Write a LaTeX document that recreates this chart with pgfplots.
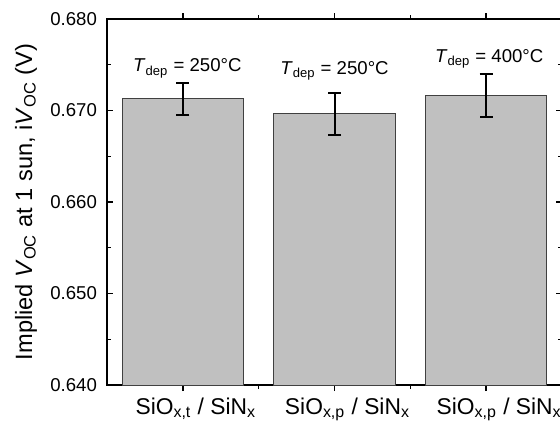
\documentclass[border=0pt]{standalone}
\usepackage{pgfplots}
\pgfplotsset{compat=1.18}
\usepackage{fontspec}
\setmainfont{Liberation Sans}
\definecolor{barfill}{HTML}{C0C0C0}
\begin{document}
\begin{tikzpicture}
\begin{axis}[
    name=ax,
    scale only axis,
    width=227.5pt, height=183pt,
    xmin=0.5, xmax=3.5,
    ymin=0.64, ymax=0.68,
    axis line style={line width=0.7pt},
    xtick={1,2,3},
    xticklabels={SiO\textsubscript{x,t} / SiN\textsubscript{x},
                 SiO\textsubscript{x,p} / SiN\textsubscript{x},
                 SiO\textsubscript{x,p} / SiN\textsubscript{x}},
    minor xtick={1.5,2.5},
    ytick={0.64,0.65,0.66,0.67,0.68},
    minor y tick num=1,
    tick align=inside,
    xtick pos=both, ytick pos=both,
    xticklabel pos=lower, yticklabel pos=left,
    major tick length=3pt, minor tick length=2pt,
    every tick/.style={black, line width=0.7pt},
    /pgf/number format/fixed,
    /pgf/number format/fixed zerofill,
    /pgf/number format/precision=3,
    /pgf/number format/assume math mode=true,
    yticklabel style={font=\fontsize{9.3}{11}\selectfont, xshift=-1.5pt},
    xticklabel style={font=\fontsize{11.4}{14}\selectfont, anchor=base, yshift=-11.5pt, xshift=6.5pt},
    ylabel={Implied \textit{V}\textsubscript{OC} at 1 sun, i\textit{V}\textsubscript{OC} (V)},
    ylabel style={font=\fontsize{11.8}{14}\selectfont, at={(axis description cs:-0.178,0.5)},
        anchor=center},
    ybar, bar width=0.8,
]
\addplot[fill=barfill, draw=black!75, line width=0.5pt,
    error bars/.cd, y dir=both, y explicit,
    error bar style={black, line width=1pt},
    error mark options={rotate=90, mark size=3.25pt, line width=1pt, black}]
coordinates {
    (1,0.67126) +- (0,0.0018)
    (2,0.66962) +- (0,0.0023)
    (3,0.67169) +- (0,0.00235)
};
\node[anchor=base, font=\fontsize{9.3}{11}\selectfont] at (axis cs:1.03,0.67421)
    {\textit{T}\textsubscript{dep} = 250°C};
\node[anchor=base, font=\fontsize{9.3}{11}\selectfont] at (axis cs:2.0,0.67395)
    {\textit{T}\textsubscript{dep} = 250°C};
\node[anchor=base, font=\fontsize{9.3}{11}\selectfont] at (axis cs:3.02,0.6753)
    {\textit{T}\textsubscript{dep} = 400°C};
\end{axis}
\pgfresetboundingbox
\path[use as bounding box] ([shift={(-53.5pt,-17.5pt)}]ax.south west)
    rectangle ([shift={(226.5pt,192.5pt)}]ax.south west);
\end{tikzpicture}
\end{document}
